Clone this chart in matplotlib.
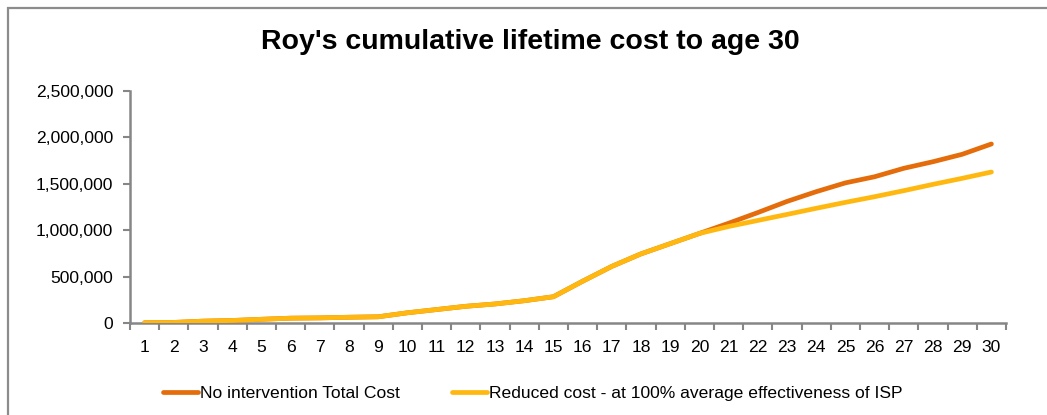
import numpy as np
import matplotlib
matplotlib.use("Agg")
import matplotlib.pyplot as plt
import matplotlib.ticker as mticker
from matplotlib.patches import Rectangle

# ------------------------------------------------------------
# Data
# ------------------------------------------------------------
ages = list(range(1, 31))

no_intervention = [3000, 6000, 20000, 27000, 40000, 52000, 55000, 62000, 67000, 110000,
                   145000, 180000, 205000, 240000, 283000, 450000, 610000, 745000, 855000, 965000,
                   1075000, 1190000, 1310000, 1415000, 1510000, 1576000, 1667000, 1738000, 1818000, 1929000]

reduced_cost = [3000, 6000, 20000, 27000, 40000, 52000, 55000, 62000, 67000, 110000,
                145000, 180000, 205000, 240000, 283000, 450000, 610000, 745000, 855000, 965000,
                1040000, 1105000, 1170000, 1236000, 1300000, 1361000, 1426000, 1494000, 1559000, 1627000]

y_ticks = [0, 500000, 1000000, 1500000, 2000000, 2500000]

series_labels = ["No intervention Total Cost",
                 "Reduced cost - at 100% average effectiveness of ISP"]

plt.rcParams['font.family'] = ['Liberation Sans', 'DejaVu Sans']

AXIS_GREY = "#868686"
ORANGE = "#E46C0A"
GOLD = "#FFB80F"
FS = 12.6

fig = plt.figure(figsize=(10.47, 4.15), dpi=100)
ax = fig.add_axes([130 / 1047, 1 - 323 / 415, 876 / 1047, 232 / 415])

ax.plot(ages, no_intervention, color=ORANGE, lw=3.4, solid_capstyle="round",
        label=series_labels[0], zorder=3)
ax.plot(ages, reduced_cost, color=GOLD, lw=3.4, solid_capstyle="round",
        label=series_labels[1], zorder=4)

ax.set_xlim(0.5, 30.5)
ax.set_ylim(0, 2500000)

# category labels at integers, tick marks between categories
ax.set_xticks(ages)
ax.set_xticks(np.arange(0.5, 31, 1), minor=True)
ax.tick_params(axis="x", which="major", length=0, pad=12, labelsize=FS)
ax.tick_params(axis="x", which="minor", length=5, width=1.5, color=AXIS_GREY)

ax.set_yticks(y_ticks)
ax.yaxis.set_major_formatter(mticker.FuncFormatter(lambda v, p: f"{int(v):,}"))
ax.tick_params(axis="y", length=5, width=1.5, color=AXIS_GREY, pad=7, labelsize=FS)

for side in ["top", "right"]:
    ax.spines[side].set_visible(False)
for side in ["left", "bottom"]:
    ax.spines[side].set_color(AXIS_GREY)
    ax.spines[side].set_linewidth(1.8)

fig.text(530 / 1047, 1 - 42 / 415, "Roy's cumulative lifetime cost to age 30",
         ha="center", va="center", fontsize=20.5, fontweight="bold")

fig.legend(loc="center", bbox_to_anchor=(533 / 1047, 1 - 393 / 415), ncol=2,
           frameon=False, fontsize=FS, handlelength=2.0, handletextpad=0.1,
           columnspacing=3.0)

# outer chart border (only the top and left edges show in the reference)
fig.patches.append(Rectangle((8 / 1047, -0.2), 1.2, 1.2 - 8 / 415, transform=fig.transFigure,
                             fill=False, edgecolor="#8c8c8c", lw=1.6))

fig.savefig("out.png", dpi=100)
